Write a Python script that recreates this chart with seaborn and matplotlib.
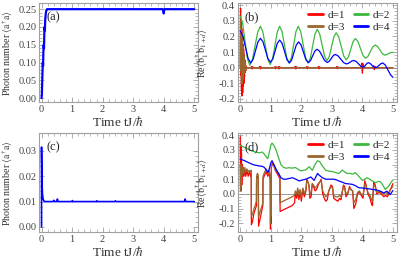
import numpy as np
import pandas as pd
import matplotlib
matplotlib.use('Agg')
import matplotlib.pyplot as plt
import seaborn as sns

# ---- data ----
# (a) photon number, coupled case
ta = [0, 0.01, 0.02, 0.03, 0.04, 0.05, 0.06, 0.07, 0.08, 0.09, 0.10, 0.11, 0.12, 0.13, 0.15,
      0.18, 0.2, 3.97, 3.99, 4.0, 4.01, 4.03, 5.0]
na = [0.0, 0.01, 0.04, 0.07, 0.10, 0.09, 0.13, 0.15, 0.14, 0.18, 0.20, 0.19, 0.22, 0.23, 0.245,
      0.25, 0.25, 0.25, 0.245, 0.238, 0.245, 0.25, 0.25]

# (c) photon number, second case
tc = [0, 0.0, 0.01, 0.02, 0.03, 0.05, 0.08, 0.1, 0.38, 0.4, 0.42, 0.5, 0.52, 0.54, 1.0, 1.01, 1.02,
      1.8, 1.81, 1.82, 2.4, 2.42, 2.44, 4.68, 4.7, 4.72, 5.0]
nc = [0, 0.0315, 0.022, 0.016, 0.013, 0.011, 0.0102, 0.01, 0.01, 0.0105, 0.01, 0.01, 0.011, 0.01,
      0.01, 0.0104, 0.01, 0.01, 0.0103, 0.01, 0.01, 0.0103, 0.01, 0.01, 0.011, 0.01, 0.01]

# (b) correlations
tb1 = [0, 0.01, 0.02, 0.03, 0.04, 0.05, 0.06, 0.07, 0.08, 0.09, 0.10, 0.11, 0.12, 0.13, 0.14,
       0.15, 0.16, 0.17, 0.18, 0.19, 0.2,
       0.35, 0.37, 0.39, 0.41, 0.43, 0.62, 0.64, 0.66, 0.68, 0.70, 1.12, 1.14, 1.16, 1.18, 1.20,
       1.23, 1.25, 1.27, 1.29, 1.31, 1.78, 1.80, 1.82, 1.84, 1.86, 2.16, 2.18, 2.20, 2.22, 2.24,
       2.54, 2.56, 2.58, 2.60, 2.62, 3.14, 3.16, 3.18, 3.20, 3.22, 3.95, 3.98, 4.0, 4.02, 4.05,
       4.35, 4.37, 4.39, 4.41, 4.43, 5.0]
b1 = [0.0, 0.38, -0.05, 0.3, -0.15, 0.25, -0.18, 0.2, -0.16, 0.15, -0.12, 0.12, -0.1, 0.08, -0.06,
      0.05, -0.03, 0.03, -0.02, 0.01, 0.0,
      0.0, 0.008, -0.008, 0.006, 0.0, 0.0, 0.008, -0.008, 0.006, 0.0, 0.0, 0.007, -0.007, 0.005, 0.0,
      0.0, 0.008, -0.008, 0.006, 0.0, 0.0, 0.008, -0.008, 0.006, 0.0, 0.0, 0.007, -0.007, 0.005, 0.0,
      0.0, 0.008, -0.008, 0.006, 0.0, 0.0, 0.007, -0.007, 0.005, 0.0, 0.0, 0.03, -0.035, 0.025, 0.0,
      0.0, 0.012, -0.012, 0.008, 0.0, 0.0]
tb3 = [0, 0.01, 0.02, 0.03, 0.04, 0.05, 0.06, 0.07, 0.08, 0.09, 0.10, 0.11, 0.12, 0.13, 0.14,
       0.15, 0.16, 0.17, 0.18, 0.19, 0.2, 5.0]
b3 = [0.0, 0.3, -0.02, 0.25, -0.1, 0.22, -0.1, 0.18, -0.08, 0.14, -0.06, 0.1, -0.04, 0.07, -0.03,
      0.04, -0.02, 0.02, -0.01, 0.005, 0.0, 0.0]
tb2 = [0, 0.078, 0.155, 0.233, 0.31, 0.398, 0.485, 0.573, 0.66, 0.74, 0.82, 0.90, 0.98, 1.058,
       1.135, 1.213, 1.29, 1.368, 1.445, 1.523, 1.6, 1.675, 1.75, 1.825, 1.9, 1.98, 2.06, 2.14,
       2.22, 2.295, 2.37, 2.445, 2.52, 2.6, 2.68, 2.76, 2.84, 2.915, 2.99, 3.065, 3.14, 3.223,
       3.305, 3.388, 3.47, 3.545, 3.62, 3.695, 3.77, 3.853, 3.935, 4.018, 4.1, 4.18, 4.26, 4.34,
       4.42, 4.498, 4.575, 4.653, 4.73, 4.79, 4.85, 4.91, 4.97, 5.0]
b2 = [0.33, 0.284, 0.172, 0.061, 0.015, 0.052, 0.14, 0.228, 0.265, 0.229, 0.142, 0.056, 0.02,
      0.056, 0.142, 0.229, 0.265, 0.231, 0.148, 0.064, 0.03, 0.064, 0.148, 0.231, 0.265, 0.231,
      0.148, 0.064, 0.03, 0.061, 0.138, 0.214, 0.245, 0.216, 0.145, 0.074, 0.045, 0.071, 0.134,
      0.197, 0.223, 0.198, 0.137, 0.075, 0.05, 0.07, 0.119, 0.167, 0.187, 0.168, 0.124, 0.079,
      0.06, 0.072, 0.103, 0.133, 0.145, 0.135, 0.113, 0.09, 0.08, 0.083, 0.089, 0.095, 0.098, 0.097]
tb4 = [0, 0.085, 0.17, 0.255, 0.34, 0.42, 0.5, 0.58, 0.66, 0.743, 0.825, 0.908, 0.99, 1.065,
       1.14, 1.215, 1.29, 1.37, 1.45, 1.53, 1.61, 1.685, 1.76, 1.835, 1.91, 1.99, 2.07, 2.15,
       2.23, 2.3, 2.37, 2.44, 2.51, 2.595, 2.68, 2.765, 2.85, 2.915, 2.98, 3.045, 3.11, 3.2,
       3.29, 3.38, 3.47, 3.533, 3.595, 3.658, 3.72, 3.795, 3.87, 3.945, 4.02, 4.065, 4.11, 4.155,
       4.2, 4.255, 4.31, 4.365, 4.42, 4.483, 4.545, 4.608, 4.67, 4.75, 4.83, 4.92, 5.0]
b4 = [0.235, 0.205, 0.133, 0.06, 0.03, 0.053, 0.109, 0.165, 0.188, 0.166, 0.112, 0.057, 0.035,
      0.056, 0.106, 0.156, 0.177, 0.156, 0.104, 0.051, 0.03, 0.05, 0.098, 0.145, 0.165, 0.146,
      0.099, 0.051, 0.032, 0.045, 0.075, 0.105, 0.118, 0.106, 0.076, 0.045, 0.033, 0.041, 0.059,
      0.077, 0.085, 0.076, 0.055, 0.033, 0.024, 0.027, 0.035, 0.043, 0.046, 0.04, 0.025, 0.009,
      0.003, 0.007, 0.018, 0.028, 0.032, 0.027, 0.016, 0.005, 0.0, 0.004, 0.015, 0.026, 0.03,
      0.017, -0.013, -0.045, -0.062]

# (d) correlations
td13 = [0.0, 0.01, 0.02, 0.03, 0.04, 0.05, 0.06, 0.08, 0.1, 0.12, 0.15, 0.18, 0.22, 0.26, 0.3,
        0.34, 0.36, 0.365, 0.4, 0.45, 0.5, 0.53, 0.535, 0.56, 0.59, 0.6, 0.65, 0.7, 0.74, 0.745,
        0.8, 0.85, 0.9, 0.95, 0.98, 0.99, 1.0, 1.01, 1.02, 1.05, 1.1, 1.15, 1.2, 1.26, 1.3,
        1.305, 1.4, 1.5, 1.6, 1.7, 1.78, 1.8, 1.85, 1.88, 1.92, 1.96, 2.0, 2.05, 2.1, 2.15,
        2.18, 2.22, 2.25, 2.28, 2.32, 2.36, 2.4, 2.45, 2.5, 2.55, 2.6, 2.65, 2.7, 2.75, 2.8,
        2.85, 2.9, 2.97, 3.02, 3.06, 3.12, 3.2, 3.25, 3.3, 3.38, 3.42, 3.46, 3.52, 3.58, 3.62,
        3.68, 3.72, 3.78, 3.84, 3.9, 3.96, 4.02, 4.08, 4.12, 4.18, 4.25, 4.3, 4.33, 4.37, 4.42,
        4.47, 4.55, 4.62, 4.7, 4.76, 4.82, 4.86, 4.92, 5.0]
d1 = [0.39, 0.05, 0.33, 0.02, 0.28, 0.06, 0.2, 0.12, 0.17, 0.12, 0.16, 0.12, 0.16, 0.12, 0.15,
      0.12, 0.14, -0.21, -0.19, -0.13, -0.1, -0.08, 0.1, 0.12, 0.11, -0.22, -0.17, -0.12, -0.08,
      0.1, 0.13, 0.15, 0.12, 0.14, 0.1, -0.24, 0.0, -0.2, 0.18, 0.21, 0.2, 0.16, 0.14, 0.12, 0.1,
      -0.12, -0.11, -0.1, -0.09, -0.08, -0.06, 0.0, -0.03, 0.03, -0.04, 0.02, -0.05, 0.03, -0.02,
      0.02, 0.1, 0.08, 0.06, -0.03, -0.02, 0.07, 0.05, 0.02, 0.03, 0.06, 0.08, 0.1, 0.0, -0.03,
      -0.05, -0.04, 0.02, 0.06, 0.05, -0.03, -0.04, -0.05, -0.03, -0.04, 0.06, 0.05, -0.02, 0.0,
      0.05, 0.03, 0.02, -0.1, -0.07, 0.0, 0.01, -0.01, -0.03, 0.09, 0.06, 0.0, -0.03, -0.07,
      -0.08, 0.08, 0.06, 0.0, 0.01, 0.0, -0.02, -0.01, -0.02, 0.0, 0.03, 0.07]
d3 = [0.2, 0.02, 0.19, 0.05, 0.2, 0.12, 0.18, 0.14, 0.18, 0.14, 0.18, 0.15, 0.17, 0.15, 0.16,
      0.15, 0.16, -0.15, -0.14, -0.1, -0.07, -0.05, 0.12, 0.14, 0.13, -0.16, -0.12, -0.09, -0.06,
      0.12, 0.15, 0.17, 0.14, 0.16, 0.12, -0.2, 0.02, -0.15, 0.19, 0.2, 0.19, 0.16, 0.15, 0.14,
      0.12, -0.06, -0.05, -0.04, -0.03, -0.02, -0.01, 0.02, 0.0, 0.04, -0.01, 0.03, -0.02, 0.04,
      0.0, 0.03, 0.09, 0.08, 0.06, 0.0, 0.01, 0.07, 0.06, 0.04, 0.05, 0.07, 0.08, 0.09, 0.02, 0.0,
      -0.02, -0.01, 0.02, 0.05, 0.04, -0.01, -0.02, -0.02, -0.01, -0.02, 0.05, 0.04, 0.0, 0.01,
      0.04, 0.03, 0.02, -0.06, -0.04, 0.01, 0.02, 0.0, -0.01, 0.07, 0.05, 0.01, -0.01, -0.04,
      -0.05, 0.06, 0.05, 0.01, 0.02, 0.01, 0.0, 0.01, 0.0, 0.01, 0.03, 0.05]
td2 = [0, 0.1, 0.2, 0.3, 0.41, 0.5, 0.63, 0.72, 0.79, 0.86, 0.9, 0.95, 1.0, 1.04, 1.1, 1.17, 1.25,
       1.33, 1.42, 1.5, 1.6, 1.71, 1.8, 1.88, 1.98, 2.06, 2.15, 2.26, 2.36, 2.45, 2.53, 2.6, 2.69,
       2.8, 2.9, 3.02, 3.12, 3.23, 3.34, 3.42, 3.5, 3.58, 3.67, 3.77, 3.88, 4.0, 4.08, 4.15, 4.24,
       4.32, 4.43, 4.52, 4.59, 4.67, 4.75, 4.86, 4.97, 5.0]
d2 = [0.33, 0.32, 0.31, 0.3, 0.29, 0.285, 0.28, 0.285, 0.27, 0.25, 0.24, 0.28, 0.33, 0.346, 0.33,
      0.3, 0.25, 0.2, 0.18, 0.175, 0.178, 0.175, 0.18, 0.17, 0.157, 0.16, 0.164, 0.185, 0.16, 0.2,
      0.226, 0.22, 0.19, 0.16, 0.155, 0.152, 0.145, 0.139, 0.162, 0.15, 0.139, 0.14, 0.134, 0.145,
      0.12, 0.092, 0.1, 0.11, 0.1, 0.088, 0.076, 0.085, 0.083, 0.06, 0.03, 0.053, 0.088, 0.09]
td4 = [0, 0.14, 0.25, 0.41, 0.5, 0.63, 0.72, 0.79, 0.86, 0.9, 0.95, 1.0, 1.04, 1.1, 1.17, 1.25,
       1.33, 1.42, 1.5, 1.6, 1.71, 1.82, 1.93, 2.04, 2.15, 2.31, 2.42, 2.53, 2.6, 2.69, 2.8, 2.9,
       3.07, 3.15, 3.23, 3.34, 3.45, 3.55, 3.67, 3.78, 3.88, 4.0, 4.1, 4.2, 4.32, 4.42, 4.53,
       4.62, 4.7, 4.8, 4.91, 5.0]
d4 = [0.238, 0.226, 0.215, 0.2, 0.195, 0.19, 0.188, 0.18, 0.16, 0.145, 0.17, 0.21, 0.226, 0.2,
      0.17, 0.14, 0.11, 0.1, 0.1, 0.105, 0.11, 0.1, 0.088, 0.095, 0.1, 0.115, 0.092, 0.139, 0.125,
      0.11, 0.1, 0.1, 0.1, 0.095, 0.088, 0.08, 0.07, 0.068, 0.065, 0.055, 0.042, 0.04, 0.037,
      0.035, 0.03, 0.028, 0.023, 0.015, 0.007, 0.018, -0.005, 0.023]

labels = ['d=1', 'd=2', 'd=3', 'd=4']
colors = ['#ff0000', '#3cb83c', '#99662e', '#0000ff']

# ---- style ----
sns.set_style('ticks')
plt.rcParams['font.family'] = ['Liberation Serif', 'DejaVu Serif']
plt.rcParams['mathtext.fontset'] = 'stix'
plt.rcParams['axes.unicode_minus'] = False
plt.rcParams['axes.edgecolor'] = '#a0a0a0'
plt.rcParams['axes.linewidth'] = 0.8
plt.rcParams['xtick.color'] = '#a0a0a0'
plt.rcParams['ytick.color'] = '#a0a0a0'
plt.rcParams['xtick.labelcolor'] = '#444444'
plt.rcParams['ytick.labelcolor'] = '#444444'

fig = plt.figure(figsize=(3.99, 2.61), dpi=100)
ax_a = fig.add_axes([0.098, 0.609, 0.398, 0.379])
ax_b = fig.add_axes([0.596, 0.609, 0.398, 0.379])
ax_c = fig.add_axes([0.098, 0.111, 0.398, 0.379])
ax_d = fig.add_axes([0.596, 0.111, 0.398, 0.379])


def frame(ax, ylim, yticks, fmt, tag, ylab, ylab_x):
    ax.set_xlim(-0.08, 5.12)
    ax.set_ylim(*ylim)
    ax.set_xticks(range(6))
    ax.set_xticks(np.arange(0, 5.01, 0.2), minor=True)
    ax.set_yticks(yticks)
    ax.set_yticks(np.arange(yticks[0], yticks[-1] + 1e-9, (yticks[1] - yticks[0]) / 5), minor=True)
    ax.set_yticklabels([fmt.format(v) for v in yticks])
    ax.tick_params(which='both', direction='in', top=True, right=True, labelsize=7.5, pad=2)
    ax.tick_params(which='major', length=3.5, width=0.6)
    ax.tick_params(which='minor', length=2, width=0.5)
    ax.set_xlabel('Time tJ/$\\hbar$', fontsize=9.5, color='#333333', labelpad=1)
    ax.set_ylabel(ylab, fontsize=7.2, color='#333333')
    ax.yaxis.set_label_coords(ylab_x, 0.5)
    ax.text(0.045, 0.86, tag, transform=ax.transAxes, fontsize=9, va='center', ha='left',
            color='#222222')


photon_lab = 'Photon number $\\langle \\mathrm{a}^{\\dagger}\\mathrm{a}\\rangle$'
corr_lab = 'Re$\\langle \\mathrm{b}_1^{\\dagger}\\, \\mathrm{b}_{1+d}\\rangle$'

# (a)
sns.lineplot(x=ta, y=na, ax=ax_a, color='#0000ff', lw=1.6, sort=False, estimator=None)
frame(ax_a, (-0.011, 0.267), [0, 0.05, 0.10, 0.15, 0.20, 0.25], '{:.2f}', '(a)', photon_lab, -0.15)

# (c)
sns.lineplot(x=tc, y=nc, ax=ax_c, color='#0000ff', lw=1.2, sort=False, estimator=None)
frame(ax_c, (-0.002, 0.037), [0, 0.01, 0.02, 0.03], '{:.2f}', '(c)', photon_lab, -0.15)

# (b) and (d)
for ax, series, lim, tag in [
        (ax_b, [(tb1, b1), (tb2, b2), (tb3, b3), (tb4, b4)], (-0.22, 0.413), '(b)'),
        (ax_d, [(td13, d1), (td2, d2), (td13, d3), (td4, d4)], (-0.26, 0.414), '(d)')]:
    ax.axhline(0, color='#9a9a9a', lw=0.7, zorder=1)
    for (t, v), lab, col in zip(series, labels, colors):
        sns.lineplot(x=t, y=v, ax=ax, color=col, lw=0.9, sort=False, estimator=None, label=lab)
    frame(ax, lim, [-0.2, -0.1, 0.0, 0.1, 0.2, 0.3, 0.4], '{:.1f}', tag, corr_lab, -0.17)
    h, l = ax.get_legend_handles_labels()
    ax.legend([h[0], h[2], h[1], h[3]], [l[0], l[2], l[1], l[3]], ncol=2, loc='upper right',
              frameon=False, fontsize=8, handlelength=1.3, handletextpad=0.4,
              columnspacing=0.8, labelspacing=0.2, borderaxespad=0.2)
    for line in ax.get_legend().get_lines():
        line.set_linewidth(2.0)

fig.savefig('out.png', dpi=100)
